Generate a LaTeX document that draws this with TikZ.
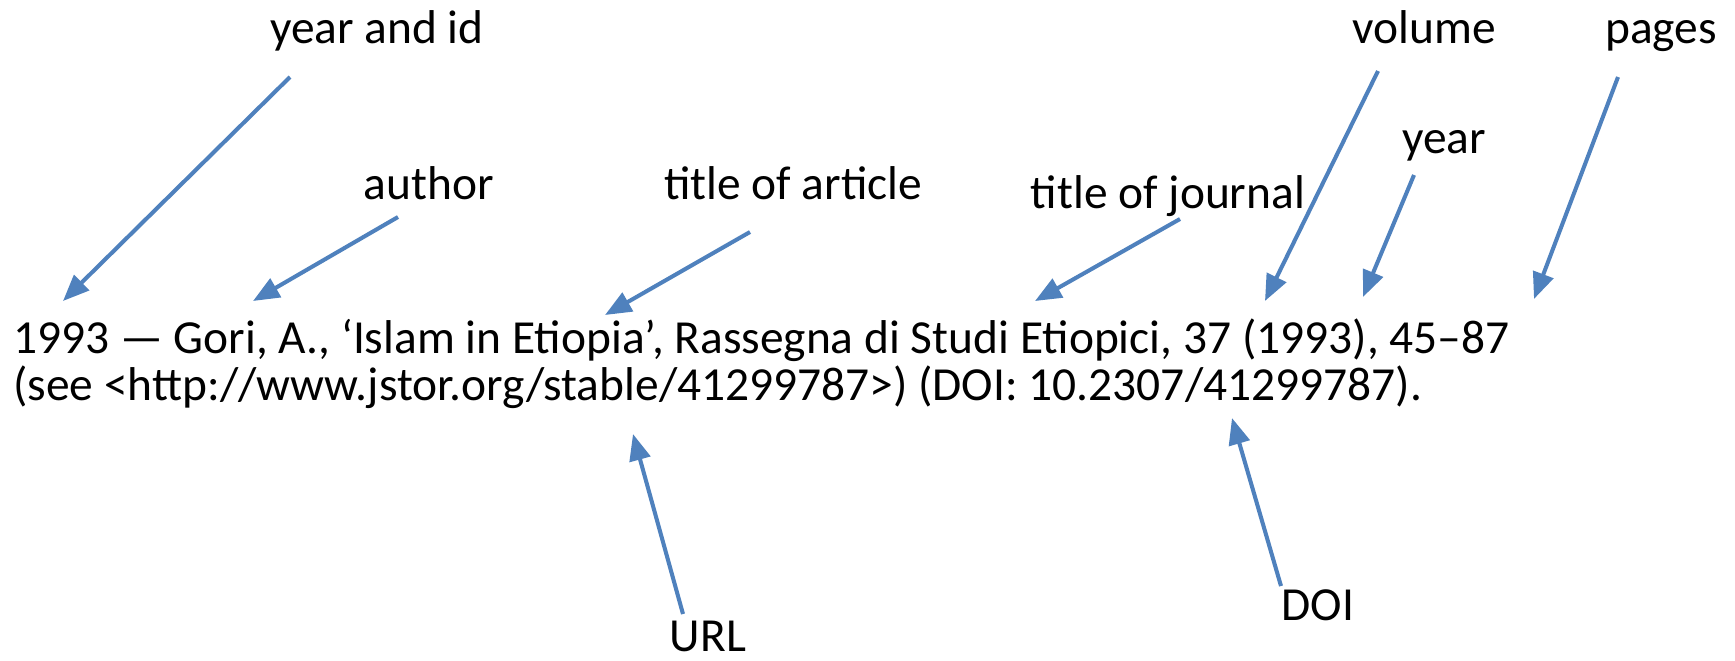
\documentclass[tikz,border=0pt]{standalone}
\usepackage{fontspec}
\setmainfont{Carlito}
\usetikzlibrary{arrows.meta}

\begin{document}
\begin{tikzpicture}[x=0.02cm,y=-0.02cm,
        every node/.style={font=\fontsize{27}{28}\selectfont,inner sep=0pt},
        lbl/.style={anchor=base},
        ln/.style={anchor=base west},
        pointer/.style={draw={rgb,255:red,79;green,129;blue,189},line width=2.3pt,
            -{Triangle[length=15pt,width=12pt]}}]
            \useasboundingbox (0,0) rectangle (1735,660);
            % the reference
            \node[ln] (lineA) at (13,353) {1993 — Gori, A., ‘Islam in Etiopia’, Rassegna di Studi Etiopici, 37 (1993), 45–87};
            \node[ln] (lineB) at (13,400) {(see <http://www.jstor.org/stable/41299787>) (DOI: 10.2307/41299787).};
            % labels
            \node[lbl] (yid) at (377,43) {year and id};
            \node[lbl] (auth) at (429,199) {author};
            \node[lbl] (art) at (793,199) {title of article};
            \node[lbl] (jour) at (1168,208) {title of journal};
            \node[lbl] (vol) at (1424,43) {volume};
            \node[lbl] (yr) at (1444,153) {year};
            \node[lbl] (pg) at (1661,43) {pages};
            \node[lbl] (url) at (708,651) {URL};
            \node[lbl] (doi) at (1318,620) {DOI};
            % arrow ends
            \coordinate (yidT) at (290,77);   \coordinate (yidH) at (63,301);
            \coordinate (authT) at (398,217); \coordinate (authH) at (253,301);
            \coordinate (artT) at (750,232);  \coordinate (artH) at (605,315);
            \coordinate (jourT) at (1180,219);\coordinate (jourH) at (1035,301);
            \coordinate (volT) at (1378,71);  \coordinate (volH) at (1265,301);
            \coordinate (yrT) at (1414,175);  \coordinate (yrH) at (1363,297);
            \coordinate (pgT) at (1618,77);   \coordinate (pgH) at (1534,299);
            \coordinate (urlT) at (683,614);  \coordinate (urlH) at (633,434);
            \coordinate (doiT) at (1281,586); \coordinate (doiH) at (1232,418);
            \draw[pointer] (yidT) -- (yidH);
            \draw[pointer] (authT) -- (authH);
            \draw[pointer] (artT) -- (artH);
            \draw[pointer] (jourT) -- (jourH);
            \draw[pointer] (volT) -- (volH);
            \draw[pointer] (yrT) -- (yrH);
            \draw[pointer] (pgT) -- (pgH);
            \draw[pointer] (urlT) -- (urlH);
            \draw[pointer] (doiT) -- (doiH);
        \end{tikzpicture}
\end{document}
